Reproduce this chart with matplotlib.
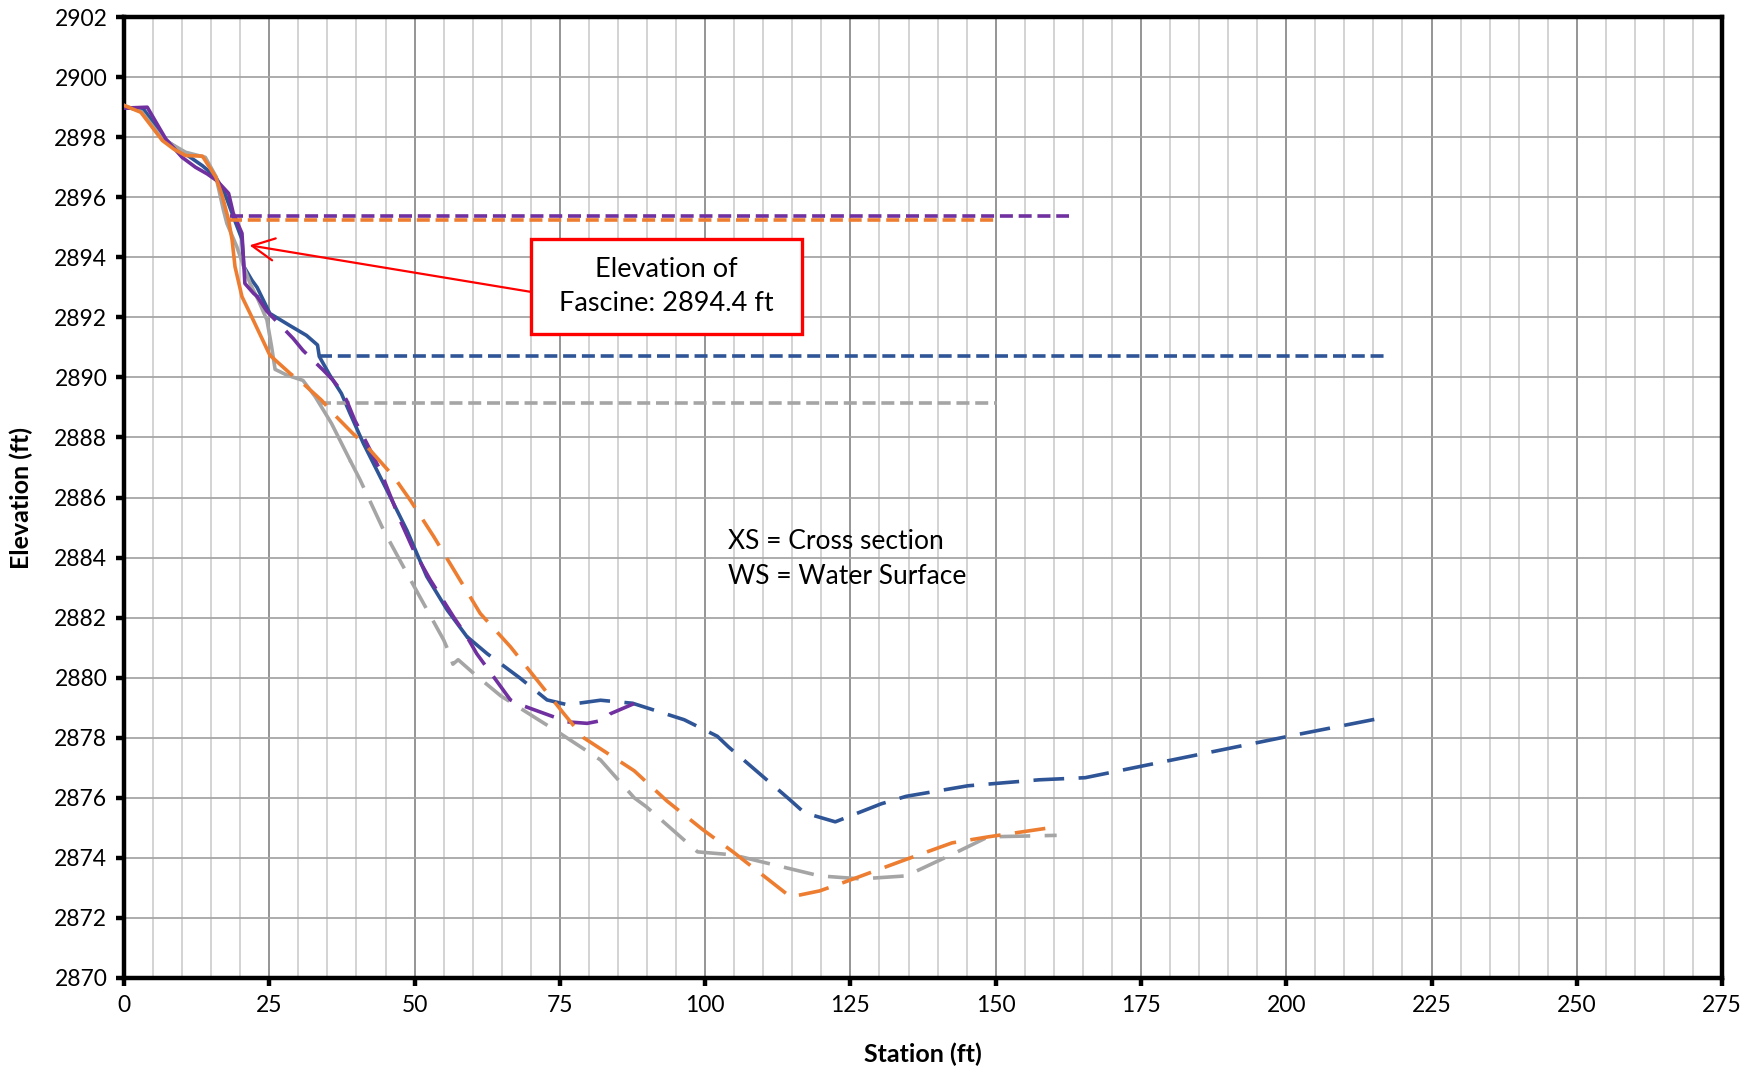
import matplotlib
matplotlib.use('Agg')
from matplotlib import pyplot as plt
from matplotlib.patches import Rectangle
from matplotlib.ticker import MultipleLocator

plt.rcParams['font.family'] = ['Lato', 'DejaVu Sans']

# Cross section profiles (station ft, elevation ft): solid upper bank + dashed survey
blue_solid_x = [0, 3.5, 7.2, 10.6, 13.5, 15.8, 17.4, 18.8, 20.3, 20.6, 22.0, 22.9, 25.1, 28.6, 31.4,
                33.3, 33.6, 35.4, 37.4, 38.9, 41.2, 45.8, 48.7, 52.1, 55.6, 59.0]
blue_solid_y = [2899.0, 2898.9, 2897.9, 2897.44, 2897.05, 2896.67, 2896.1, 2895.36, 2894.6, 2893.7,
                2893.24, 2893.0, 2892.13, 2891.72, 2891.4, 2891.08, 2890.7, 2890.08, 2889.47, 2888.8,
                2887.8, 2886.03, 2884.9, 2883.37, 2882.26, 2881.37]
blue_dash_x = [59.0, 62.5, 68.2, 72.8, 76.3, 82.0, 87.5, 96.4, 102.1, 104.0, 114.5, 117.1, 122.4,
               130.3, 134.6, 145.2, 157.5, 165.4, 175.0, 200.4, 217.5]
blue_dash_y = [2881.37, 2880.8, 2879.98, 2879.26, 2879.1, 2879.25, 2879.15, 2878.6, 2878.05, 2877.7,
               2875.95, 2875.5, 2875.2, 2875.8, 2876.05, 2876.4, 2876.6, 2876.67, 2877.05, 2878.05,
               2878.7]

purple_solid_x = [0, 4.0, 7.2, 10.0, 12.3, 14.3, 16.0, 18.0, 18.8, 20.3, 20.8, 22.3, 22.9]
purple_solid_y = [2898.97, 2899.0, 2897.94, 2897.33, 2897.0, 2896.78, 2896.55, 2896.13, 2895.47,
                  2894.8, 2893.13, 2892.8, 2892.7]
purple_dash_x = [22.9, 24.6, 29.1, 30.8, 34.3, 36.0, 37.2, 38.3, 39.7, 41.8, 44.1, 47.5, 49.8, 52.7,
                 56.7, 59.0, 60.7, 63.6, 66.5, 68.2, 76.3, 79.7, 82.6, 83.7, 87.8]
purple_dash_y = [2892.7, 2892.2, 2891.3, 2890.9, 2890.24, 2889.9, 2889.6, 2889.24, 2888.58, 2887.8,
                 2886.9, 2885.25, 2884.26, 2883.26, 2882.03, 2881.37, 2880.8, 2880.03, 2879.26,
                 2879.1, 2878.53, 2878.48, 2878.59, 2878.8, 2879.14]

orange_solid_x = [0, 2.9, 6.6, 8.6, 10.6, 13.5, 15.8, 16.9, 18.0, 18.6, 19.1, 20.3, 21.7, 25.1]
orange_solid_y = [2899.06, 2898.83, 2897.89, 2897.6, 2897.39, 2897.37, 2896.67, 2896.05, 2895.24,
                  2894.58, 2893.69, 2892.69, 2892.13, 2890.74]
orange_dash_x = [25.1, 28.6, 30.8, 34.0, 36.3, 39.4, 41.8, 46.4, 49.3, 53.3, 61.3, 66.5, 75.7, 79.1,
                 87.8, 93.4, 99.6, 104.8, 114.7, 119.7, 124.1, 134.6, 142.5, 148.7, 161.0]
orange_dash_y = [2890.74, 2890.13, 2889.8, 2889.24, 2888.74, 2888.13, 2887.7, 2886.7, 2885.9,
                 2884.7, 2882.14, 2881.03, 2878.8, 2878.0, 2876.9, 2875.9, 2874.94, 2874.2, 2872.7,
                 2872.9, 2873.2, 2873.95, 2874.5, 2874.7, 2875.05]

gray_solid_x = [0, 3.0, 6.6, 10.6, 14.0, 15.8, 17.1, 17.7, 19.4, 20.6, 21.7, 23.1, 24.6, 25.4, 26.0,
                28.0, 30.8, 32.9, 35.7, 38.9]
gray_solid_y = [2899.06, 2898.85, 2897.95, 2897.5, 2897.33, 2896.7, 2895.58, 2895.13, 2894.36,
                2893.69, 2893.13, 2892.58, 2891.91, 2891.02, 2890.27, 2890.08, 2889.9, 2889.36,
                2888.47, 2887.24]
gray_dash_x = [38.9, 40.6, 44.7, 49.3, 55.0, 55.8, 56.6, 57.5, 60.2, 64.8, 70.5, 75.1, 82.0, 87.8,
               89.9, 98.7, 104.8, 119.7, 126.8, 134.6, 143.4, 148.7, 160.5]
gray_dash_y = [2887.24, 2886.6, 2884.9, 2883.26, 2881.26, 2880.9, 2880.45, 2880.6, 2880.14, 2879.4,
               2878.7, 2878.14, 2877.26, 2876.0, 2875.7, 2874.2, 2874.1, 2873.4, 2873.3, 2873.4,
               2874.2, 2874.7, 2874.75]

# Water surface lines
ws_blue_x, ws_blue_y = [33.5, 217.2], [2890.72, 2890.72]
ws_purple_x, ws_purple_y = [18.3, 162.7], [2895.38, 2895.38]
ws_orange_x, ws_orange_y = [18.1, 150.0], [2895.24, 2895.24]
ws_gray_x, ws_gray_y = [33.3, 150.2], [2889.14, 2889.14]

fascine_elev = 2894.4
fascine_station = 21.6

blue = '#2F5597'
purple = '#7030A0'
orange = '#ED7D31'
gray = '#A5A5A5'

fig = plt.figure(figsize=(17.59, 10.70), dpi=100)
ax = fig.add_axes([0.0705, 0.086, 0.9085, 0.898])

lw = 2.6
long_dash = (8.5, 4)
short_dash = (3.6, 1.6)

profiles = [
    (blue, blue_solid_x, blue_solid_y, blue_dash_x, blue_dash_y, ws_blue_x, ws_blue_y),
    (gray, gray_solid_x, gray_solid_y, gray_dash_x, gray_dash_y, ws_gray_x, ws_gray_y),
    (purple, purple_solid_x, purple_solid_y, purple_dash_x, purple_dash_y, ws_purple_x, ws_purple_y),
    (orange, orange_solid_x, orange_solid_y, orange_dash_x, orange_dash_y, ws_orange_x, ws_orange_y),
]
for k, (c, sx, sy, dx, dy, wx, wy) in enumerate(profiles):
    ax.plot(sx, sy, color=c, lw=lw, solid_joinstyle='round', zorder=3 + k)
    ax.plot(dx, dy, color=c, lw=lw, dashes=long_dash, dash_capstyle='butt', zorder=3 + k)
    ax.plot(wx, wy, color=c, lw=lw, dashes=short_dash, zorder=3 + k)

ax.set_xlim(0, 275)
ax.set_ylim(2870, 2902)
ax.xaxis.set_major_locator(MultipleLocator(25))
ax.xaxis.set_minor_locator(MultipleLocator(5))
ax.yaxis.set_major_locator(MultipleLocator(2))

ax.grid(which='minor', axis='x', color='#d0d0d0', lw=1.3, zorder=0)
ax.grid(which='major', axis='x', color='#8c8c8c', lw=1.3, zorder=1)
ax.grid(which='major', axis='y', color='#a6a6a6', lw=1.3, zorder=1)
ax.set_axisbelow(True)

for sp in ax.spines.values():
    sp.set_linewidth(3.2)
    sp.set_color('black')
ax.tick_params(which='major', direction='out', length=6, width=3.2, labelsize=16.5, pad=6)
ax.tick_params(which='minor', length=0)

ax.set_xlabel('Station (ft)', fontsize=18, fontweight='bold')
ax.set_ylabel('Elevation (ft)', fontsize=18, fontweight='bold')
ax.xaxis.set_label_coords(0.5, -0.0796)
ax.xaxis.label.set_va('center')
ax.yaxis.set_label_coords(-0.064, 0.5)
ax.yaxis.label.set_va('center')

# Fascine callout
ax.annotate('', xy=(fascine_station, fascine_elev), xytext=(70.0, 2892.85),
            arrowprops=dict(arrowstyle='->', color='red', lw=1.6, mutation_scale=40,
                            shrinkA=0, shrinkB=0), zorder=8)
ax.add_patch(Rectangle((70.0, 2891.44), 46.7, 3.16, fc='white', ec='red', lw=2.4, zorder=9))
ax.text(93.4, 2893.02, 'Elevation of\nFascine: 2894.4 ft', ha='center', va='center',
        fontsize=19.5, linespacing=1.45, zorder=10)

ax.text(104.0, 2883.95, 'XS = Cross section\nWS = Water Surface', ha='left', va='center',
        fontsize=19, linespacing=1.5, zorder=10)

fig.savefig('out.png', dpi=100, facecolor='white')
